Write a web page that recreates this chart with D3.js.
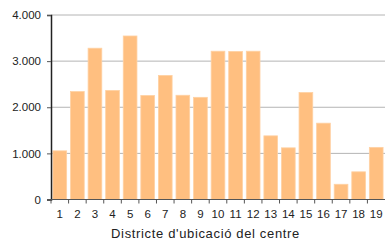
<!DOCTYPE html>
<html><head><meta charset="utf-8">
<script src="https://cdn.jsdelivr.net/npm/d3@7"></script>
<style>body{margin:0;background:#fff}svg{display:block}text{font-family:"Liberation Sans",Arial,sans-serif;fill:#222}</style>
</head><body><svg id="c" width="386" height="240"></svg>
<script>
const districts = ["1","2","3","4","5","6","7","8","9","10","11","12","13","14","15","16","17","18","19"];
const values = [1055,2340,3280,2365,3545,2255,2690,2260,2215,3215,3210,3215,1380,1120,2320,1655,330,600,1130];
const yTicks = [0,1000,2000,3000,4000];
const xTitle = "Districte d'ubicació del centre";

const svg = d3.select("#c");
const L = 51, R = 385, T = 15, B = 199.5;
const x = d3.scaleBand().domain(districts).range([L, R]).paddingInner(0.22).paddingOuter(0.11);
const y = d3.scaleLinear().domain([0, 4000]).range([B, T]);
const fmt = v => d3.format(",")(v).replace(/,/g, ".");

// gridlines
svg.append("g").selectAll("line").data(yTicks.filter(d => d > 0)).join("line")
  .attr("x1", L).attr("x2", R).attr("y1", d => y(d)).attr("y2", d => y(d))
  .attr("stroke", "#b4b4b4").attr("stroke-width", 1);

// bars
svg.append("g").selectAll("rect").data(values).join("rect")
  .attr("x", (d, i) => x(districts[i])).attr("width", x.bandwidth())
  .attr("y", d => y(d)).attr("height", d => B - y(d))
  .attr("fill", "#ffbf80").attr("stroke", "#ffd1a3").attr("stroke-width", 0.8);

// y axis
const ya = svg.append("g").attr("transform", `translate(${L},0)`)
  .call(d3.axisLeft(y).tickValues(yTicks).tickFormat(fmt).tickSize(4).tickPadding(6));
ya.select(".domain").attr("stroke", "#222").attr("stroke-width", 1.5);
ya.selectAll(".tick line").attr("stroke", "#555");
ya.selectAll("text").attr("font-size", 11.5).attr("font-family", "Liberation Sans, Arial, sans-serif").attr("fill", "#222");

// x axis
const xa = svg.append("g").attr("transform", `translate(0,${B})`);
xa.append("line").attr("x1", L).attr("x2", R).attr("y1", 0).attr("y2", 0).attr("stroke", "#555").attr("stroke-width", 1.2);
const step = x.step();
xa.selectAll("line.t").data(d3.range(districts.length)).join("line").attr("class","t")
  .attr("x1", i => x(districts[i]) - step * 0.11).attr("x2", i => x(districts[i]) - step * 0.11)
  .attr("y1", 0).attr("y2", 4).attr("stroke", "#555");
xa.selectAll("text").data(districts).join("text")
  .attr("x", d => x(d) + x.bandwidth() / 2).attr("y", 18)
  .attr("text-anchor", "middle").attr("font-size", 11.5).text(d => d);

svg.append("text").attr("x", 205.5).attr("y", 238).attr("text-anchor", "middle")
  .attr("font-size", 13).attr("letter-spacing", 0.65).text(xTitle);
</script></body></html>
